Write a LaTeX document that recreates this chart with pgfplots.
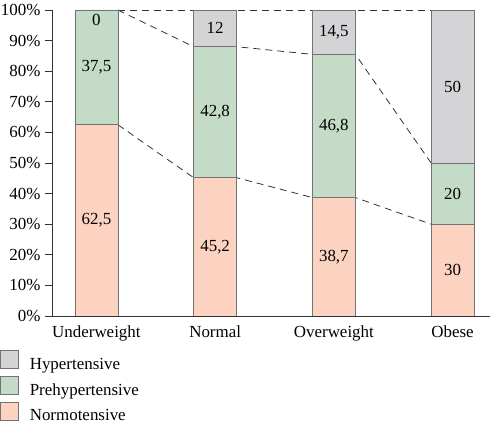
\documentclass[border=0pt]{standalone}
\usepackage{fontspec}
\setmainfont{Liberation Serif}
\usepackage{pgfplots}
\pgfplotsset{compat=1.18}
\definecolor{normo}{RGB}{252,211,192}
\definecolor{prehyp}{RGB}{196,219,199}
\definecolor{hyp}{RGB}{212,212,215}
\begin{document}
\begin{tikzpicture}[font=\fontsize{17}{20}\selectfont]
\useasboundingbox (0,0) rectangle (490bp,423bp);
\pgfplotsset{common/.style={scale only axis, width=438bp, height=306bp,
  xmin=-0.374, xmax=3.315, ymin=0, ymax=100, at={(52bp,107bp)}, anchor=south west}}
\begin{axis}[common, hide axis]
\addplot[black!80, line width=0.8pt, dash pattern=on 7bp off 5bp] coordinates {(0.181,100) (2.819,100)};
\addplot[black!80, line width=0.8pt, dash pattern=on 7bp off 5bp] coordinates {(0.181,100) (0.819,88) (1.181,88) (1.819,85.5) (2.181,85.5) (2.819,50)};
\addplot[black!80, line width=0.8pt, dash pattern=on 7bp off 5bp] coordinates {(0.181,62.5) (0.819,45.2) (1.181,45.2) (1.819,38.7) (2.181,38.7) (2.819,30)};
\end{axis}
\begin{axis}[common, ybar stacked, bar width=43bp,
  axis lines*=left,
  axis line style={black!80, line width=0.8pt},
  ytick={0,10,...,100},
  yticklabels={0\%,10\%,20\%,30\%,40\%,50\%,60\%,70\%,80\%,90\%,100\%},
  xtick={0,1,2,3},
  xticklabels={Underweight,Normal,Overweight,Obese},
  x tick style={draw=none},
  y tick style={black!80, line width=0.8pt},
  tick align=outside, major tick length=7bp,
  yticklabel style={xshift=-1bp},
  xticklabel style={yshift=1bp},
  reverse legend,
  legend cell align=left,
  legend style={at={(-0.1187,-0.111)}, anchor=north west, draw=none, fill=none,
    inner sep=0pt, row sep=3bp, column sep=9bp, font=\fontsize{17}{20}\selectfont},
  legend image code/.code={\draw[#1, draw=black!55, line width=0.6pt] (0bp,-4bp) rectangle (18bp,14bp);},
]
\addplot[fill=normo, draw=black!55, line width=0.6pt] coordinates {(0,62.5) (1,45.2) (2,38.7) (3,30)};
\addlegendentry{Normotensive}
\addplot[fill=prehyp, draw=black!55, line width=0.6pt] coordinates {(0,37.5) (1,42.8) (2,46.8) (3,20)};
\addlegendentry{Prehypertensive}
\addplot[fill=hyp, draw=black!55, line width=0.6pt] coordinates {(0,0) (1,12) (2,14.5) (3,50)};
\addlegendentry{Hypertensive}
\end{axis}
\begin{axis}[common, hide axis, clip=false]
\node at (axis cs:0,31.25) {62,5};
\node at (axis cs:0,81.25) {37,5};
\node at (axis cs:0,96.6) {0};
\node at (axis cs:1,22.6) {45,2};
\node at (axis cs:1,66.6) {42,8};
\node at (axis cs:1,94) {12};
\node at (axis cs:2,19.35) {38,7};
\node at (axis cs:2,62.1) {46,8};
\node at (axis cs:2,92.75) {14,5};
\node at (axis cs:3,15) {30};
\node at (axis cs:3,40) {20};
\node at (axis cs:3,75) {50};
\end{axis}
\end{tikzpicture}
\end{document}
